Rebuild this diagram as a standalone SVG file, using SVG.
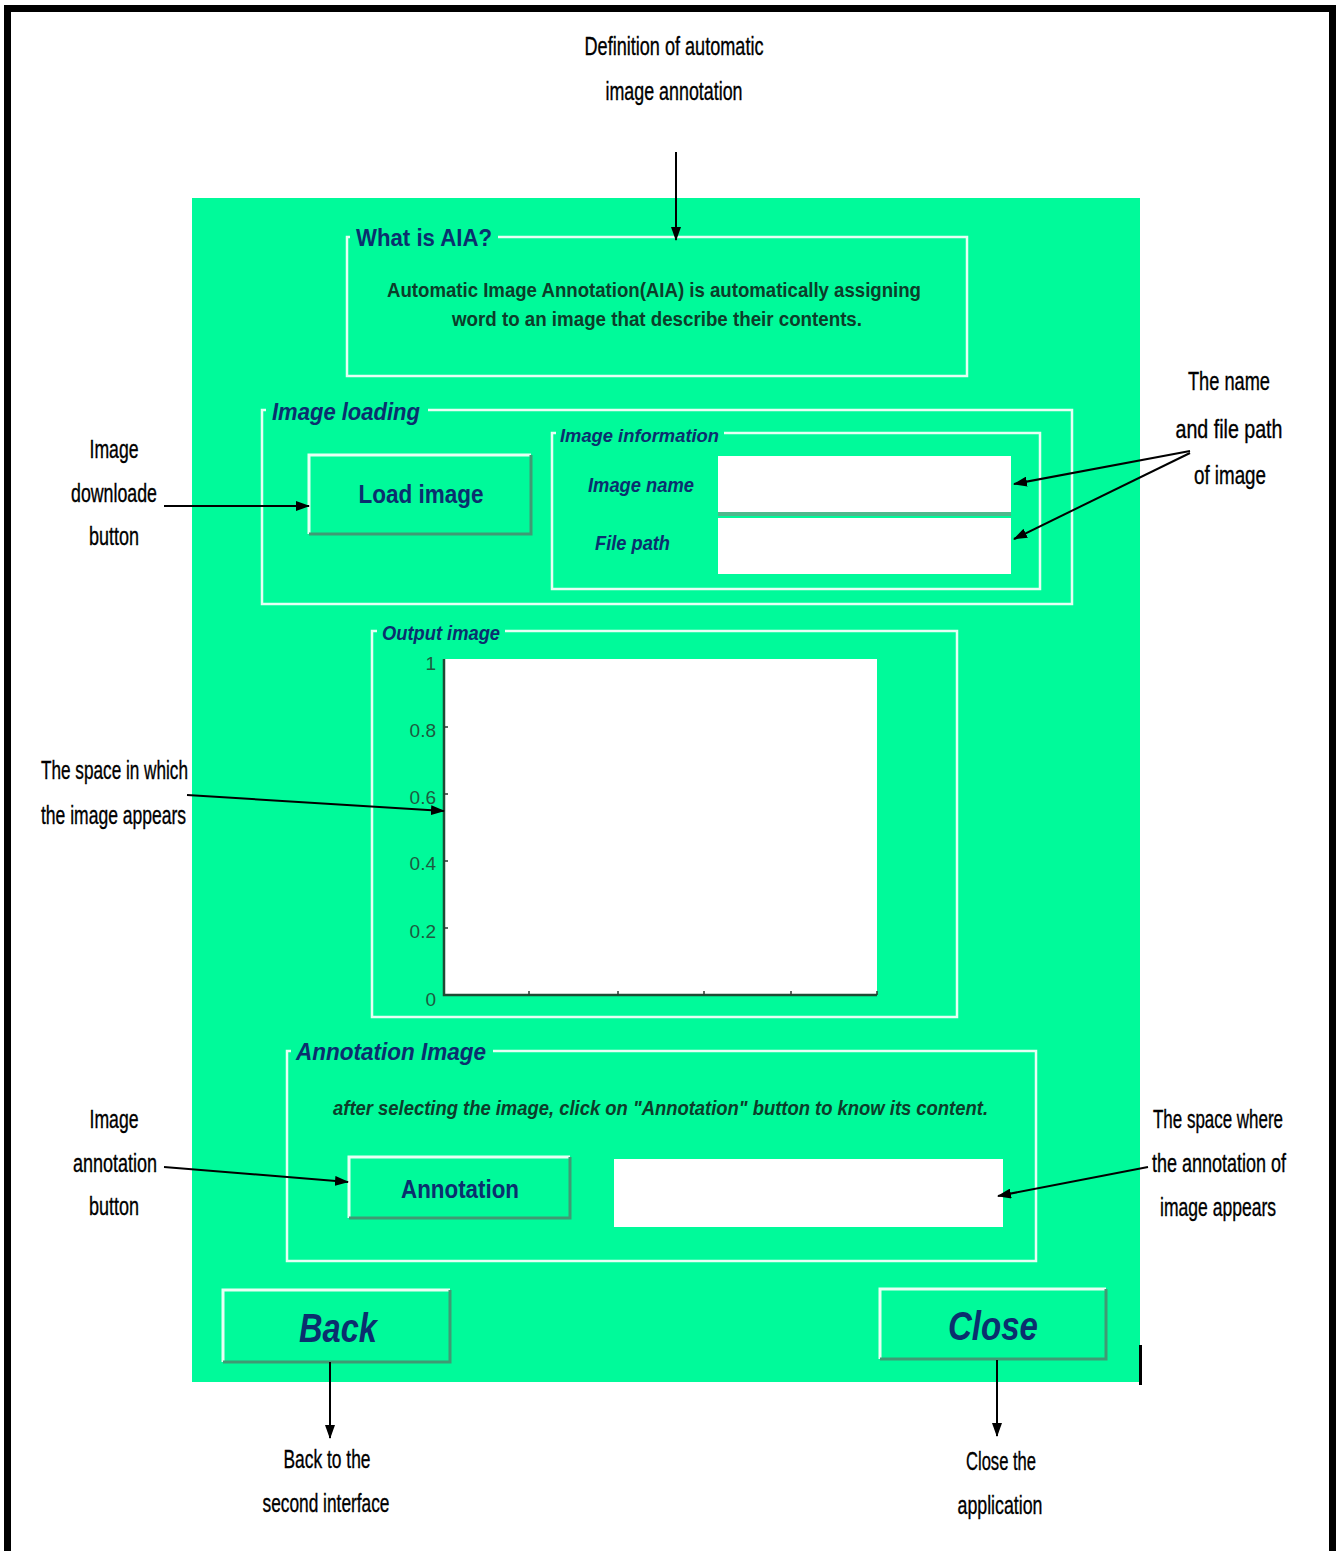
<svg xmlns="http://www.w3.org/2000/svg" width="1339" height="1551" viewBox="0 0 1339 1551">
  <style>
    .note { font-family: "Liberation Sans", Arial, sans-serif; font-size: 25px; fill: #000; stroke: #000; stroke-width: 0.35; }
    .title { font-family: "Liberation Sans", Arial, sans-serif; font-weight: bold; font-style: italic; fill: #0b2f6e; }
    .upright { font-style: normal; }
    .body { font-family: "Liberation Sans", Arial, sans-serif; font-weight: bold; fill: #0c3d2a; }
    .btn { font-family: "Liberation Sans", Arial, sans-serif; font-weight: bold; fill: #0b2f6e; text-anchor: middle; }
    .tick { font-family: "Liberation Sans", Arial, sans-serif; font-size: 19px; fill: #1d5a40; text-anchor: end; }
    .frame { fill: none; stroke: #e6fff4; stroke-width: 2.5; }
    .gap { fill: #00fa9a; }
    .field { fill: #ffffff; }
    .conn { stroke: #000; stroke-width: 2; fill: none; marker-end: url(#head); }
  </style>
  <defs>
    <marker id="head" markerWidth="14" markerHeight="10" refX="13" refY="5" orient="auto" markerUnits="userSpaceOnUse">
      <path d="M0,0 L14,5 L0,10 Z" fill="#000"/>
    </marker>
  </defs>

  <!-- page background and outer frame (open at the bottom) -->
  <rect x="0" y="0" width="1339" height="1551" fill="#ffffff"/>
  <path d="M7.5,1551 V8.5 H1332.5 V1551" fill="none" stroke="#000" stroke-width="7"/>

  <!-- application window -->
  <g id="window">
    <rect x="192" y="198" width="948" height="1184" fill="#00fa9a"/>
    <rect x="1139" y="1345" width="3" height="40" fill="#000"/>
  </g>

  <!-- What is AIA? panel -->
  <g id="panel-aia">
    <rect class="frame" x="347" y="237" width="620" height="139"/>
    <rect class="gap" x="350" y="225" width="148" height="24"/>
    <text class="title upright" x="356" y="246" font-size="24" textLength="136" lengthAdjust="spacingAndGlyphs">What is AIA?</text>
    <text class="body" x="654" y="297" font-size="20" text-anchor="middle" textLength="534" lengthAdjust="spacingAndGlyphs">Automatic Image Annotation(AIA) is automatically assigning</text>
    <text class="body" x="657" y="326" font-size="20" text-anchor="middle" textLength="410" lengthAdjust="spacingAndGlyphs">word to an image that describe their contents.</text>
  </g>

  <!-- Image loading panel -->
  <g id="panel-loading">
    <rect class="frame" x="262" y="410" width="810" height="194"/>
    <rect class="gap" x="266" y="398" width="162" height="24"/>
    <text class="title" x="272" y="420" font-size="24" textLength="148" lengthAdjust="spacingAndGlyphs">Image loading</text>
  </g>

  <g id="btn-load">
    <rect x="309" y="455" width="222" height="79" fill="#00fa9a"/>
    <path d="M309,534 V455 H531" fill="none" stroke="#e8fff4" stroke-width="3"/>
    <path d="M309,534 H531 V455" fill="none" stroke="#3f9a74" stroke-width="3"/>
    <text class="btn" x="421" y="503" font-size="26" textLength="125" lengthAdjust="spacingAndGlyphs">Load image</text>
  </g>

  <g id="panel-info">
    <rect class="frame" x="552" y="433" width="488" height="156"/>
    <rect class="gap" x="556" y="424" width="168" height="20"/>
    <text class="title" x="560" y="442" font-size="19" textLength="159" lengthAdjust="spacingAndGlyphs">Image information</text>
    <text class="title" x="588" y="492" font-size="20" textLength="106" lengthAdjust="spacingAndGlyphs">Image name</text>
    <text class="title" x="595" y="550" font-size="20" textLength="75" lengthAdjust="spacingAndGlyphs">File path</text>
  </g>

  <g id="field-name">
    <rect class="field" x="718" y="456" width="293" height="56"/>
    <rect x="718" y="512" width="293" height="4" fill="#4fb88c"/>
  </g>
  <g id="field-path">
    <rect class="field" x="718" y="518" width="293" height="56"/>
  </g>

  <!-- Output image panel with empty axes -->
  <g id="panel-output">
    <rect class="frame" x="372" y="631" width="585" height="386"/>
    <rect class="gap" x="377" y="620" width="128" height="22"/>
    <text class="title" x="382" y="640" font-size="20" textLength="118" lengthAdjust="spacingAndGlyphs">Output image</text>
  </g>

  <g id="axes-output">
    <rect x="444" y="659" width="433" height="336" fill="#ffffff"/>
    <path d="M444,659 V995 H877" fill="none" stroke="#1f4a34" stroke-width="2.5"/>
    <path d="M444,727 h4 M444,794 h4 M444,861 h4 M444,928 h4 M529,995 v-4 M618,995 v-4 M704,995 v-4 M791,995 v-4 M877,995 v-4" stroke="#2a3a30" stroke-width="1.5"/>
    <text class="tick" x="436" y="670">1</text>
    <text class="tick" x="436" y="737">0.8</text>
    <text class="tick" x="436" y="804">0.6</text>
    <text class="tick" x="436" y="870">0.4</text>
    <text class="tick" x="436" y="938">0.2</text>
    <text class="tick" x="436" y="1006">0</text>
  </g>

  <!-- Annotation Image panel -->
  <g id="panel-annotation">
    <rect class="frame" x="287" y="1051" width="749" height="210"/>
    <rect class="gap" x="291" y="1039" width="202" height="24"/>
    <text class="title" x="296" y="1060" font-size="24" textLength="190" lengthAdjust="spacingAndGlyphs">Annotation Image</text>
    <text class="body" x="333" y="1115" font-size="20" font-style="italic" textLength="655" lengthAdjust="spacingAndGlyphs">after selecting the image, click on "Annotation" button to know its content.</text>
  </g>

  <g id="btn-annotation">
    <rect x="349" y="1157" width="221" height="61" fill="#00fa9a"/>
    <path d="M349,1218 V1157 H570" fill="none" stroke="#e8fff4" stroke-width="3"/>
    <path d="M349,1218 H570 V1157" fill="none" stroke="#3f9a74" stroke-width="3"/>
    <text class="btn" x="460" y="1198" font-size="26" textLength="118" lengthAdjust="spacingAndGlyphs">Annotation</text>
  </g>

  <g id="field-annotation">
    <rect class="field" x="614" y="1159" width="389" height="68"/>
  </g>

  <!-- navigation buttons -->
  <g id="btn-back">
    <rect x="223" y="1290" width="227" height="72" fill="#00fa9a"/>
    <path d="M223,1362 V1290 H450" fill="none" stroke="#e8fff4" stroke-width="3"/>
    <path d="M223,1362 H450 V1290" fill="none" stroke="#3f9a74" stroke-width="3"/>
    <text class="btn" x="338" y="1342" font-size="40" font-style="italic" textLength="78" lengthAdjust="spacingAndGlyphs">Back</text>
  </g>

  <g id="btn-close">
    <rect x="880" y="1289" width="226" height="70" fill="#00fa9a"/>
    <path d="M880,1359 V1289 H1106" fill="none" stroke="#e8fff4" stroke-width="3"/>
    <path d="M880,1359 H1106 V1289" fill="none" stroke="#3f9a74" stroke-width="3"/>
    <text class="btn" x="993" y="1340" font-size="40" font-style="italic" textLength="90" lengthAdjust="spacingAndGlyphs">Close</text>
  </g>

  <!-- callout labels -->
  <g id="note-definition">
    <text class="note" x="674" y="55" text-anchor="middle" textLength="179" lengthAdjust="spacingAndGlyphs">Definition of automatic</text>
    <text class="note" x="674" y="100" text-anchor="middle" textLength="137" lengthAdjust="spacingAndGlyphs">image annotation</text>
  </g>
  <g id="note-namepath">
    <text class="note" x="1229" y="390" text-anchor="middle" textLength="82" lengthAdjust="spacingAndGlyphs">The name</text>
    <text class="note" x="1229" y="438" text-anchor="middle" textLength="107" lengthAdjust="spacingAndGlyphs">and file path</text>
    <text class="note" x="1230" y="484" text-anchor="middle" textLength="72" lengthAdjust="spacingAndGlyphs">of image</text>
  </g>
  <g id="note-download">
    <text class="note" x="114" y="458" text-anchor="middle" textLength="49" lengthAdjust="spacingAndGlyphs">Image</text>
    <text class="note" x="114" y="502" text-anchor="middle" textLength="86" lengthAdjust="spacingAndGlyphs">downloade</text>
    <text class="note" x="114" y="545" text-anchor="middle" textLength="50" lengthAdjust="spacingAndGlyphs">button</text>
  </g>
  <g id="note-space">
    <text class="note" x="41" y="779" textLength="147" lengthAdjust="spacingAndGlyphs">The space in which</text>
    <text class="note" x="41" y="824" textLength="145" lengthAdjust="spacingAndGlyphs">the image appears</text>
  </g>
  <g id="note-annbutton">
    <text class="note" x="114" y="1128" text-anchor="middle" textLength="49" lengthAdjust="spacingAndGlyphs">Image</text>
    <text class="note" x="115" y="1172" text-anchor="middle" textLength="84" lengthAdjust="spacingAndGlyphs">annotation</text>
    <text class="note" x="114" y="1215" text-anchor="middle" textLength="50" lengthAdjust="spacingAndGlyphs">button</text>
  </g>
  <g id="note-annspace">
    <text class="note" x="1218" y="1128" text-anchor="middle" textLength="130" lengthAdjust="spacingAndGlyphs">The space where</text>
    <text class="note" x="1219" y="1172" text-anchor="middle" textLength="134" lengthAdjust="spacingAndGlyphs">the annotation of</text>
    <text class="note" x="1218" y="1216" text-anchor="middle" textLength="116" lengthAdjust="spacingAndGlyphs">image appears</text>
  </g>
  <g id="note-back">
    <text class="note" x="327" y="1468" text-anchor="middle" textLength="87" lengthAdjust="spacingAndGlyphs">Back to the</text>
    <text class="note" x="326" y="1512" text-anchor="middle" textLength="127" lengthAdjust="spacingAndGlyphs">second interface</text>
  </g>
  <g id="note-close">
    <text class="note" x="1001" y="1470" text-anchor="middle" textLength="70" lengthAdjust="spacingAndGlyphs">Close the</text>
    <text class="note" x="1000" y="1514" text-anchor="middle" textLength="85" lengthAdjust="spacingAndGlyphs">application</text>
  </g>

  <!-- connectors -->
  <g id="connectors">
    <line class="conn" x1="676" y1="152" x2="676" y2="240"/>
    <line class="conn" x1="1190" y1="451" x2="1014" y2="484"/>
    <line class="conn" x1="1190" y1="453" x2="1014" y2="539"/>
    <line class="conn" x1="164" y1="506" x2="309" y2="506"/>
    <line class="conn" x1="187" y1="795" x2="444" y2="811"/>
    <line class="conn" x1="164" y1="1167" x2="348" y2="1182"/>
    <line class="conn" x1="1148" y1="1167" x2="998" y2="1196"/>
    <line class="conn" x1="330" y1="1362" x2="330" y2="1438"/>
    <line class="conn" x1="997" y1="1360" x2="997" y2="1436"/>
  </g>
</svg>
